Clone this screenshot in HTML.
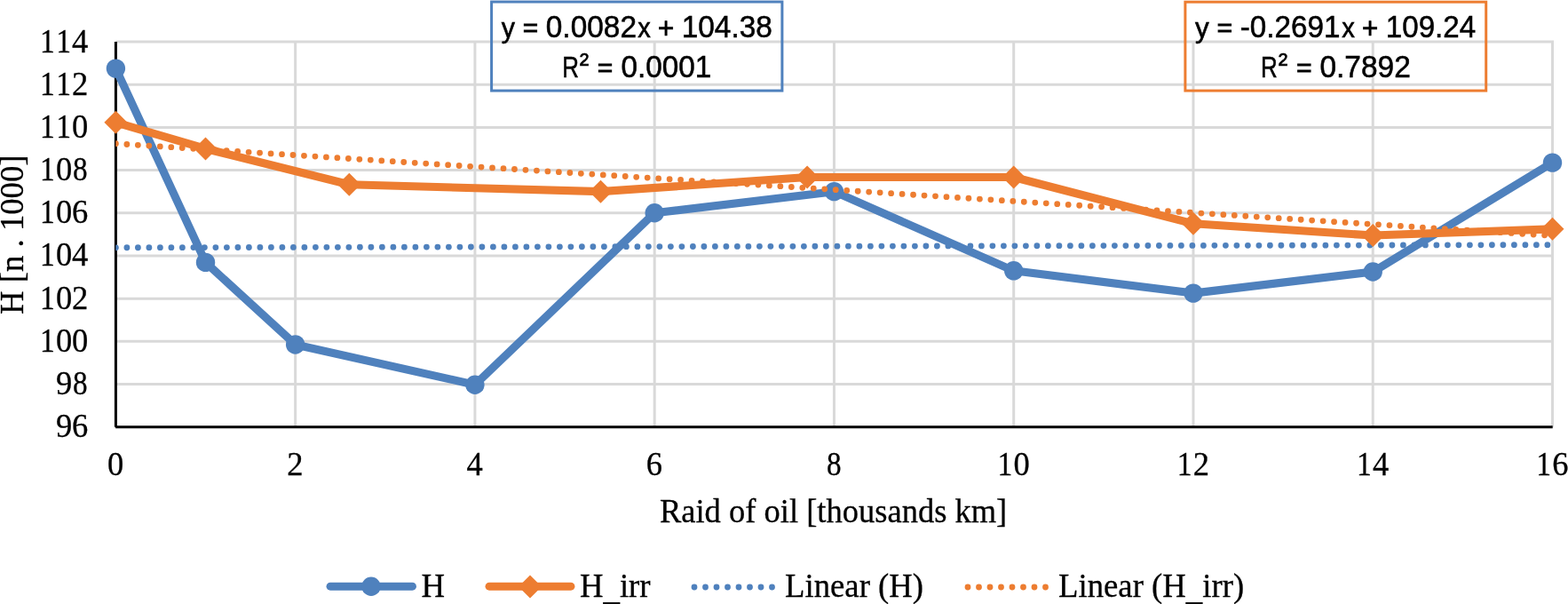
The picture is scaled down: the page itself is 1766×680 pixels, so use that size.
<!DOCTYPE html>
<html lang="en"><head><meta charset="utf-8"><title>Chart</title>
<style>html,body{margin:0;padding:0;background:#fff;}body{width:1766px;height:680px;overflow:hidden;}svg{display:block;}</style>
</head><body>
<svg width="1766" height="680" viewBox="0 0 1766 680">
<rect width="1766" height="680" fill="#fff"/>
<defs><clipPath id="pc"><rect x="130.3" y="0" width="1623.1" height="680"/></clipPath></defs>
<path d="M130.4 47.00H1750.0M130.4 95.19H1750.0M130.4 143.38H1750.0M130.4 191.57H1750.0M130.4 239.76H1750.0M130.4 287.94H1750.0M130.4 336.13H1750.0M130.4 384.32H1750.0M130.4 432.51H1750.0M332.66 45.5V480.7M534.92 45.5V480.7M737.19 45.5V480.7M939.45 45.5V480.7M1141.71 45.5V480.7M1343.97 45.5V480.7M1546.24 45.5V480.7M1748.50 45.5V480.7" stroke="#d9d9d9" stroke-width="3" fill="none"/>
<path d="M130.4 46.9V480.7M130.1 480.7H1748.7" stroke="#000" stroke-width="3" fill="none"/>
<path d="M130.40 278.79L1748.50 275.63" stroke="#4f81bd" stroke-width="6.8" stroke-linecap="round" stroke-dasharray="0 12.5" fill="none" clip-path="url(#pc)"/>
<polyline points="130.40,77.12 231.53,295.41 332.66,387.94 534.92,433.23 737.19,239.76 939.45,215.66 1141.71,304.81 1343.97,330.11 1546.24,306.02 1748.50,183.13" stroke="#4f81bd" stroke-width="9.1" stroke-linecap="round" stroke-linejoin="round" fill="none"/>
<circle cx="130.40" cy="77.12" r="10.7" fill="#4f81bd"/>
<circle cx="231.53" cy="295.41" r="10.7" fill="#4f81bd"/>
<circle cx="332.66" cy="387.94" r="10.7" fill="#4f81bd"/>
<circle cx="534.92" cy="433.23" r="10.7" fill="#4f81bd"/>
<circle cx="737.19" cy="239.76" r="10.7" fill="#4f81bd"/>
<circle cx="939.45" cy="215.66" r="10.7" fill="#4f81bd"/>
<circle cx="1141.71" cy="304.81" r="10.7" fill="#4f81bd"/>
<circle cx="1343.97" cy="330.11" r="10.7" fill="#4f81bd"/>
<circle cx="1546.24" cy="306.02" r="10.7" fill="#4f81bd"/>
<circle cx="1748.50" cy="183.13" r="10.7" fill="#4f81bd"/>
<path d="M130.40 161.69L1748.50 265.43" stroke="#ed7d31" stroke-width="6.8" stroke-linecap="round" stroke-dasharray="0 12.5" fill="none" clip-path="url(#pc)"/>
<polyline points="130.40,137.84 231.53,167.47 393.34,207.71 676.51,215.66 909.11,199.52 1141.71,199.52 1343.97,251.80 1546.24,265.05 1748.50,257.83" stroke="#ed7d31" stroke-width="9.1" stroke-linecap="round" stroke-linejoin="round" fill="none"/>
<path d="M117.40 137.84L130.40 124.84L143.40 137.84L130.40 150.84Z" fill="#ed7d31"/>
<path d="M218.53 167.47L231.53 154.47L244.53 167.47L231.53 180.47Z" fill="#ed7d31"/>
<path d="M380.34 207.71L393.34 194.71L406.34 207.71L393.34 220.71Z" fill="#ed7d31"/>
<path d="M663.51 215.66L676.51 202.66L689.51 215.66L676.51 228.66Z" fill="#ed7d31"/>
<path d="M896.11 199.52L909.11 186.52L922.11 199.52L909.11 212.52Z" fill="#ed7d31"/>
<path d="M1128.71 199.52L1141.71 186.52L1154.71 199.52L1141.71 212.52Z" fill="#ed7d31"/>
<path d="M1330.97 251.80L1343.97 238.80L1356.97 251.80L1343.97 264.80Z" fill="#ed7d31"/>
<path d="M1533.24 265.05L1546.24 252.05L1559.24 265.05L1546.24 278.05Z" fill="#ed7d31"/>
<path d="M1735.50 257.83L1748.50 244.83L1761.50 257.83L1748.50 270.83Z" fill="#ed7d31"/>
<g font-family="'Liberation Serif', serif" font-size="37.3" fill="#000" stroke="#000" stroke-width="0.3">
<text y="58.55"><tspan x="45.07" textLength="16.79" lengthAdjust="spacingAndGlyphs">1</tspan><tspan x="63.27" textLength="16.79" lengthAdjust="spacingAndGlyphs">1</tspan><tspan x="81.10" textLength="18.25" lengthAdjust="spacingAndGlyphs">4</tspan></text>
<text y="106.74"><tspan x="45.07" textLength="16.79" lengthAdjust="spacingAndGlyphs">1</tspan><tspan x="63.27" textLength="16.79" lengthAdjust="spacingAndGlyphs">1</tspan><tspan x="81.10" textLength="18.25" lengthAdjust="spacingAndGlyphs">2</tspan></text>
<text y="154.93"><tspan x="45.07" textLength="16.79" lengthAdjust="spacingAndGlyphs">1</tspan><tspan x="63.27" textLength="16.79" lengthAdjust="spacingAndGlyphs">1</tspan><tspan x="81.10" textLength="18.25" lengthAdjust="spacingAndGlyphs">0</tspan></text>
<text y="203.12"><tspan x="45.07" textLength="16.79" lengthAdjust="spacingAndGlyphs">1</tspan><tspan x="62.90" textLength="18.25" lengthAdjust="spacingAndGlyphs">0</tspan><tspan x="81.93" textLength="16.60" lengthAdjust="spacingAndGlyphs">8</tspan></text>
<text y="251.31"><tspan x="45.07" textLength="16.79" lengthAdjust="spacingAndGlyphs">1</tspan><tspan x="62.90" textLength="18.25" lengthAdjust="spacingAndGlyphs">0</tspan><tspan x="81.10" textLength="18.25" lengthAdjust="spacingAndGlyphs">6</tspan></text>
<text y="299.49"><tspan x="45.07" textLength="16.79" lengthAdjust="spacingAndGlyphs">1</tspan><tspan x="62.90" textLength="18.25" lengthAdjust="spacingAndGlyphs">0</tspan><tspan x="81.10" textLength="18.25" lengthAdjust="spacingAndGlyphs">4</tspan></text>
<text y="347.68"><tspan x="45.07" textLength="16.79" lengthAdjust="spacingAndGlyphs">1</tspan><tspan x="62.90" textLength="18.25" lengthAdjust="spacingAndGlyphs">0</tspan><tspan x="81.10" textLength="18.25" lengthAdjust="spacingAndGlyphs">2</tspan></text>
<text y="395.87"><tspan x="45.07" textLength="16.79" lengthAdjust="spacingAndGlyphs">1</tspan><tspan x="62.90" textLength="18.25" lengthAdjust="spacingAndGlyphs">0</tspan><tspan x="81.10" textLength="18.25" lengthAdjust="spacingAndGlyphs">0</tspan></text>
<text y="444.06"><tspan x="62.90" textLength="18.25" lengthAdjust="spacingAndGlyphs">9</tspan><tspan x="81.93" textLength="16.60" lengthAdjust="spacingAndGlyphs">8</tspan></text>
<text y="492.25"><tspan x="62.90" textLength="18.25" lengthAdjust="spacingAndGlyphs">9</tspan><tspan x="81.10" textLength="18.25" lengthAdjust="spacingAndGlyphs">6</tspan></text>
<text y="535.00"><tspan x="121.00" textLength="18.25" lengthAdjust="spacingAndGlyphs">0</tspan></text>
<text y="535.00"><tspan x="323.26" textLength="18.25" lengthAdjust="spacingAndGlyphs">2</tspan></text>
<text y="535.00"><tspan x="525.52" textLength="18.25" lengthAdjust="spacingAndGlyphs">4</tspan></text>
<text y="535.00"><tspan x="727.79" textLength="18.25" lengthAdjust="spacingAndGlyphs">6</tspan></text>
<text y="535.00"><tspan x="930.88" textLength="16.60" lengthAdjust="spacingAndGlyphs">8</tspan></text>
<text y="535.00"><tspan x="1123.58" textLength="16.79" lengthAdjust="spacingAndGlyphs">1</tspan><tspan x="1141.41" textLength="18.25" lengthAdjust="spacingAndGlyphs">0</tspan></text>
<text y="535.00"><tspan x="1325.84" textLength="16.79" lengthAdjust="spacingAndGlyphs">1</tspan><tspan x="1343.67" textLength="18.25" lengthAdjust="spacingAndGlyphs">2</tspan></text>
<text y="535.00"><tspan x="1528.11" textLength="16.79" lengthAdjust="spacingAndGlyphs">1</tspan><tspan x="1545.94" textLength="18.25" lengthAdjust="spacingAndGlyphs">4</tspan></text>
<text y="535.00"><tspan x="1730.37" textLength="16.79" lengthAdjust="spacingAndGlyphs">1</tspan><tspan x="1748.20" textLength="18.25" lengthAdjust="spacingAndGlyphs">6</tspan></text>
<text x="742.94" y="587.70" textLength="391.32" lengthAdjust="spacingAndGlyphs">Raid of oil [thousands km]</text>
<text x="-89.70" y="0.00" textLength="179.40" lengthAdjust="spacingAndGlyphs" transform="translate(25.9 264.2) rotate(-90)">H [n . 1000]</text>
<text x="474.50" y="672.10" textLength="26.54" lengthAdjust="spacingAndGlyphs">H</text>
<text x="653.00" y="672.10" textLength="79.60" lengthAdjust="spacingAndGlyphs">H<tspan dy="2.9">_</tspan><tspan dy="-2.9">irr</tspan></text>
<text x="884.00" y="672.10" textLength="156.10" lengthAdjust="spacingAndGlyphs">Linear (H)</text>
<text x="1192.00" y="672.10" textLength="209.16" lengthAdjust="spacingAndGlyphs">Linear (H<tspan dy="2.9">_</tspan><tspan dy="-2.9">irr)</tspan></text>
</g>
<path d="M372 660.2H464.5" stroke="#4f81bd" stroke-width="8.9" stroke-linecap="round"/>
<circle cx="418" cy="660.2" r="10.7" fill="#4f81bd"/>
<path d="M551 660.2H643" stroke="#ed7d31" stroke-width="8.9" stroke-linecap="round"/>
<path d="M584.00 660.40L597.00 647.40L610.00 660.40L597.00 673.40Z" fill="#ed7d31"/>
<path d="M782 661H872" stroke="#4f81bd" stroke-width="6.8" stroke-linecap="round" stroke-dasharray="0 12.5"/>
<path d="M1090 661H1180" stroke="#ed7d31" stroke-width="6.8" stroke-linecap="round" stroke-dasharray="0 12.5"/>
<rect x="553.6" y="2.05" width="327.29999999999995" height="100.05" fill="none" stroke="#4f81bd" stroke-width="3"/><g font-family="'Liberation Sans', sans-serif" font-size="33.4" fill="#000" stroke="#000" stroke-width="0.55"><text y="42.3"><tspan x="564.73" dy="-0.50" font-size="31.3" textLength="15.23" lengthAdjust="spacingAndGlyphs">y</tspan> <tspan x="589.13" dy="-0.80" font-size="28.0" stroke-width="1.1" textLength="16.95" lengthAdjust="spacingAndGlyphs">=</tspan> <tspan x="614.79" dy="1.05" font-size="35.0" textLength="102.19" lengthAdjust="spacingAndGlyphs">0.0082</tspan><tspan x="718.37" dy="-0.25" font-size="31.3" textLength="14.54" lengthAdjust="spacingAndGlyphs">x</tspan> <tspan x="740.74" dy="1.30" textLength="18.63" lengthAdjust="spacingAndGlyphs">+</tspan> <tspan x="767.65" dy="-1.05" font-size="35.0" textLength="102.20" lengthAdjust="spacingAndGlyphs">104.38</tspan></text><text y="87.1"><tspan x="633.17" textLength="18.73" lengthAdjust="spacingAndGlyphs">R</tspan><tspan x="652.77" dy="-4.00" textLength="10.54" lengthAdjust="spacingAndGlyphs">²</tspan> <tspan x="673.02" dy="2.70" font-size="28.0" stroke-width="1.1" textLength="17.07" lengthAdjust="spacingAndGlyphs">=</tspan> <tspan x="699.50" dy="1.05" font-size="35.0" textLength="101.83" lengthAdjust="spacingAndGlyphs">0.0001</tspan></text></g>
<rect x="1334.9" y="2.2" width="338.79999999999995" height="99.89999999999999" fill="none" stroke="#ed7d31" stroke-width="3"/><g font-family="'Liberation Sans', sans-serif" font-size="33.4" fill="#000" stroke="#000" stroke-width="0.55"><text y="42.3"><tspan x="1346.12" dy="-0.50" font-size="31.3" textLength="15.74" lengthAdjust="spacingAndGlyphs">y</tspan> <tspan x="1370.81" dy="-0.80" font-size="28.0" stroke-width="1.1" textLength="17.19" lengthAdjust="spacingAndGlyphs">=</tspan> <tspan x="1396.82" dy="1.05" font-size="35.0" textLength="112.60" lengthAdjust="spacingAndGlyphs">-0.2691</tspan><tspan x="1511.27" dy="-0.25" font-size="31.3" textLength="14.64" lengthAdjust="spacingAndGlyphs">x</tspan> <tspan x="1533.84" dy="1.30" textLength="18.63" lengthAdjust="spacingAndGlyphs">+</tspan> <tspan x="1560.83" dy="-1.05" font-size="35.0" textLength="101.24" lengthAdjust="spacingAndGlyphs">109.24</tspan></text><text y="87.1"><tspan x="1420.07" textLength="18.73" lengthAdjust="spacingAndGlyphs">R</tspan><tspan x="1439.67" dy="-4.00" textLength="10.54" lengthAdjust="spacingAndGlyphs">²</tspan> <tspan x="1460.31" dy="2.70" font-size="28.0" stroke-width="1.1" textLength="17.19" lengthAdjust="spacingAndGlyphs">=</tspan> <tspan x="1486.39" dy="1.05" font-size="35.0" textLength="102.39" lengthAdjust="spacingAndGlyphs">0.7892</tspan></text></g>
</svg>
</body></html>
